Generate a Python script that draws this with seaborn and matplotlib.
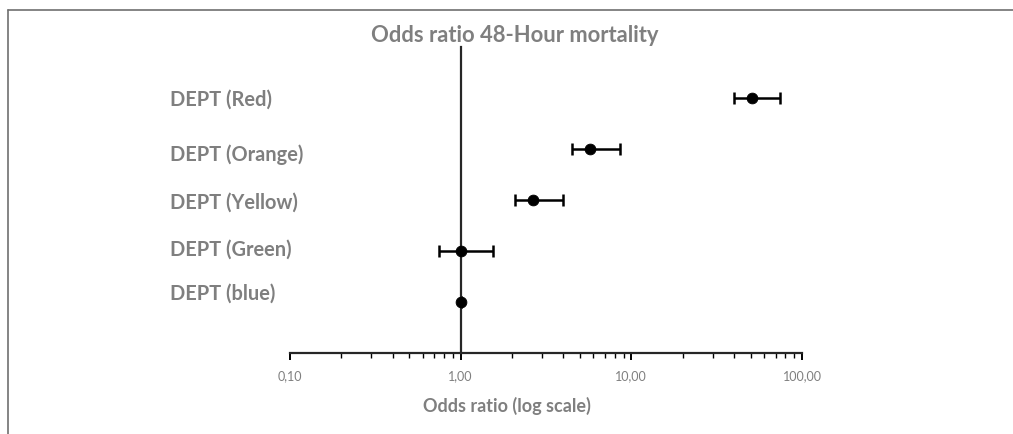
import numpy as np
import pandas as pd
import seaborn as sns
import matplotlib.pyplot as plt
from matplotlib.lines import Line2D
from matplotlib.ticker import FixedLocator, LogLocator, NullFormatter

sns.set_style("white")
plt.rcParams['font.family'] = ['Lato', 'DejaVu Sans']

categories = ['DEPT (Red)', 'DEPT (Orange)', 'DEPT (Yellow)', 'DEPT (Green)', 'DEPT (blue)']
odds = [50.9, 5.72, 2.65, 1.0, 1.0]
ci_low = [39.9, 4.49, 2.08, 0.746, 1.0]
ci_high = [74.3, 8.57, 3.97, 1.55, 1.0]
tick_values = [0.1, 1, 10, 100]
tick_labels = ['0,10', '1,00', '10,00', '100,00']

grey = '#7f7f7f'

df = pd.DataFrame({'label': categories, 'odds': odds, 'lo': ci_low, 'hi': ci_high})
df['pos'] = np.arange(len(df), 0, -1)

fig = plt.figure(figsize=(10.13, 4.34), dpi=100)
ax = fig.add_axes([290 / 1013, 1 - 353 / 434, 512 / 1013, 306 / 434])

ax.errorbar(df['odds'], df['pos'],
            xerr=[df['odds'] - df['lo'], df['hi'] - df['odds']],
            fmt='none', ecolor='black', elinewidth=1.8, capsize=4, capthick=1.8)
sns.scatterplot(data=df, x='odds', y='pos', color='black', s=60,
                edgecolor='black', zorder=3, ax=ax, legend=False)

ax.set_xscale('log')
ax.set_xlim(0.1, 100)
ax.set_ylim(0, 6)

# vertical axis crosses at 1
ax.spines['left'].set_position(('data', 1))
ax.spines['left'].set_linewidth(1.6)
ax.spines['bottom'].set_linewidth(1.6)
ax.spines['right'].set_visible(False)
ax.spines['top'].set_visible(False)
ax.set_yticks([])
ax.set_ylabel('')
ax.set_xlabel('')

ax.xaxis.set_major_locator(FixedLocator(tick_values))
ax.set_xticklabels(tick_labels, color=grey, fontsize=9)
ax.xaxis.set_minor_locator(LogLocator(base=10, subs=np.arange(2, 10)))
ax.xaxis.set_minor_formatter(NullFormatter())
ax.tick_params(axis='x', which='major', direction='out', length=5, width=1.4,
               color='black', pad=7, bottom=True)
ax.tick_params(axis='x', which='minor', direction='out', length=3.5, width=1.0,
               color='black', bottom=True)

# category labels sit slightly apart from the marker rows (as in the original layout)
label_offsets = [2, 6, 3, -1, -8]
for (_, row), off in zip(df.iterrows(), label_offsets):
    ax.annotate(row['label'], xy=(-0.235, row['pos']), xycoords=ax.get_yaxis_transform(),
                xytext=(0, -off * 0.72), textcoords='offset points',
                ha='left', va='center', fontsize=14.4, fontweight='bold', color=grey)

fig.text(515 / 1013, 1 - 36 / 434, 'Odds ratio 48-Hour mortality', ha='center',
         va='center', fontsize=15.8, fontweight='bold', color=grey)
fig.text(507 / 1013, 1 - 406 / 434, 'Odds ratio (log scale)', ha='center',
         va='center', fontsize=13, fontweight='bold', color=grey)

# chart frame (left and top edges visible)
fig.add_artist(Line2D([8 / 1013, 8 / 1013], [0, 1 - 10 / 434], color='#6f6f6f', lw=1.2))
fig.add_artist(Line2D([8 / 1013, 1], [1 - 10 / 434, 1 - 10 / 434], color='#6f6f6f', lw=1.2))

fig.savefig('out.png', dpi=100)
